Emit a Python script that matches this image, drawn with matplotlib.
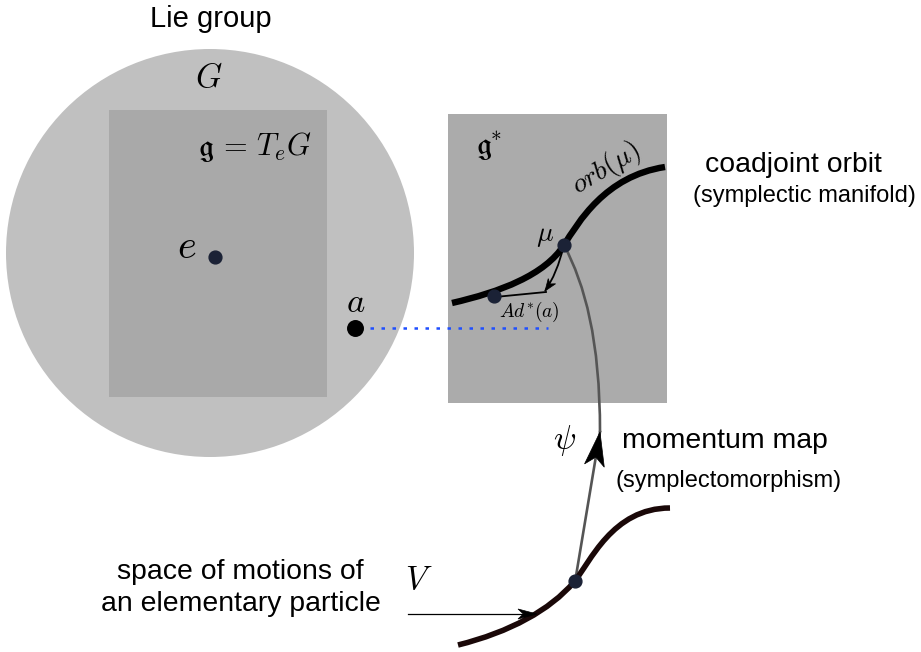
import numpy as np
import matplotlib
matplotlib.use("Agg")
import matplotlib.pyplot as plt
from matplotlib.patches import Circle, Rectangle, PathPatch, Polygon
from matplotlib.path import Path

plt.rcParams['mathtext.fontset'] = 'cm'
plt.rcParams['font.family'] = ['Liberation Sans', 'DejaVu Sans']

# ---- diagram data (pixel coordinates of the reference) ----
group_circle = (210, 253, 204)            # cx, cy, r
algebra_rect = (109, 110, 218, 287)       # x, y, w, h
dual_rect = (448, 114, 219, 289)

orbit_ctrl = [(452, 303), (500, 292), (545, 275), (564, 245),
              (578, 223), (605, 176), (665, 167)]
psi_ctrl = [(564, 245), (585, 285), (600, 340), (600, 432)]
psi_line = [(600, 432), (575, 582)]
motion_ctrl = [(458, 645), (510, 632), (550, 610), (574, 582),
               (590, 563), (612, 508), (670, 508)]
ad_ctrl = [(564, 245), (557, 274), (545, 291)]
ad_return = [(546, 292), (495, 297)]
dots_navy = [(215, 257), (564, 245), (494, 296), (575, 581)]
dot_a = (355, 328)
dotted_line = [(370, 328), (548, 328)]
v_arrow = [(408, 614), (537, 614)]

fig = plt.figure(figsize=(9.21, 6.52), dpi=100)
ax = fig.add_axes([0, 0, 1, 1])
ax.set_xlim(0, 921)
ax.set_ylim(652, 0)
ax.axis('off')

cx, cy, r = group_circle
ax.add_patch(Circle((cx, cy), r, facecolor='#c0c0c0', edgecolor='none', zorder=1))
x, y, w, h = algebra_rect
ax.add_patch(Rectangle((x, y), w, h, facecolor='#a9a9a9', edgecolor='none', zorder=2))
x, y, w, h = dual_rect
ax.add_patch(Rectangle((x, y), w, h, facecolor='#ababab', edgecolor='none', zorder=2))


def bez(pts, kind):
    return Path(pts, [Path.MOVETO] + [kind] * (len(pts) - 1))


def stealth(tip, frm, length, half_w, inset=0.72, color='black'):
    tip = np.asarray(tip, float)
    d = tip - np.asarray(frm, float)
    d /= np.hypot(*d)
    n = np.array([-d[1], d[0]])
    pts = [tip, tip - length * d + half_w * n, tip - inset * length * d,
           tip - length * d - half_w * n]
    ax.add_patch(Polygon(pts, closed=True, facecolor=color, edgecolor=color, lw=0.5, zorder=6))


# orbit curve
ax.add_patch(PathPatch(bez(orbit_ctrl, Path.CURVE4), facecolor='none', edgecolor='black',
                       lw=4.6, capstyle='butt', zorder=5))
# psi gray curve + straight segment
ax.add_patch(PathPatch(bez(psi_ctrl, Path.CURVE4), facecolor='none', edgecolor='#555555',
                       lw=1.9, zorder=4))
ax.plot([p[0] for p in psi_line], [p[1] for p in psi_line], color='#555555', lw=1.9, zorder=4)
stealth(psi_line[0], psi_line[1], 34, 10, inset=0.75)
# motion curve
ax.add_patch(PathPatch(bez(motion_ctrl, Path.CURVE4), facecolor='none', edgecolor='#1a0808',
                       lw=4.0, capstyle='butt', zorder=5))
# Ad* arrow
ax.add_patch(PathPatch(bez(ad_ctrl, Path.CURVE3), facecolor='none', edgecolor='black',
                       lw=1.3, zorder=6))
stealth(ad_ctrl[2], ad_ctrl[1], 12, 4.5)
ax.plot([p[0] for p in ad_return], [p[1] for p in ad_return], color='black', lw=1.3, zorder=6)
# V arrow
ax.plot([v_arrow[0][0], v_arrow[1][0] - 8], [v_arrow[0][1], v_arrow[1][1]], color='black', lw=0.9, zorder=6)
stealth(v_arrow[1], v_arrow[0], 19, 5)
# dotted line
ax.plot([p[0] for p in dotted_line], [p[1] for p in dotted_line], color='#1f4fff', lw=1.8,
        linestyle=(0, (1.4, 3.0)), dash_capstyle='butt', zorder=3)
# dots
ax.scatter([p[0] for p in dots_navy], [p[1] for p in dots_navy], s=85, color='#1b2236', zorder=7)
ax.scatter([dot_a[0]], [dot_a[1]], s=125, color='black', zorder=7)

# texts
ax.text(211, 19, 'Lie group', fontsize=21, ha='center', va='center')
ax.text(209, 78, r'$G$', fontsize=24, ha='center', va='center')
ax.text(255, 147, r'$\mathfrak{g}\,=\,T_eG$', fontsize=22, ha='center', va='center')
ax.text(187, 247, r'$e$', fontsize=29, ha='center', va='center')
ax.text(356, 303, r'$a$', fontsize=25, ha='center', va='center')
ax.text(489, 146, r'$\mathfrak{g}^{\!\!*}$', fontsize=22, ha='center', va='center')
ax.text(606, 168, r'$orb(\mu)$', fontsize=20, ha='center', va='center', rotation=31)
ax.text(545, 236, r'$\mu$', fontsize=20, ha='center', va='center')
ax.text(529, 312, r'$Ad^{\!*}\!(a)$', fontsize=14, ha='center', va='center')
ax.text(565, 440, r'$\psi$', fontsize=24, ha='center', va='center')
ax.text(419, 581, r'$V$', fontsize=24, ha='center', va='center')

ax.text(793, 165, 'coadjoint orbit', fontsize=20.4, ha='center', va='center')
ax.text(804, 196, '(symplectic manifold)', fontsize=17, ha='center', va='center')
ax.text(725, 441, 'momentum map', fontsize=20.4, ha='center', va='center')
ax.text(729, 481, '(symplectomorphism)', fontsize=17, ha='center', va='center')
ax.text(240, 572, 'space of motions of', fontsize=20.4, ha='center', va='center')
ax.text(241, 604, 'an elementary particle', fontsize=20.4, ha='center', va='center')

fig.savefig('out.png', dpi=100)
